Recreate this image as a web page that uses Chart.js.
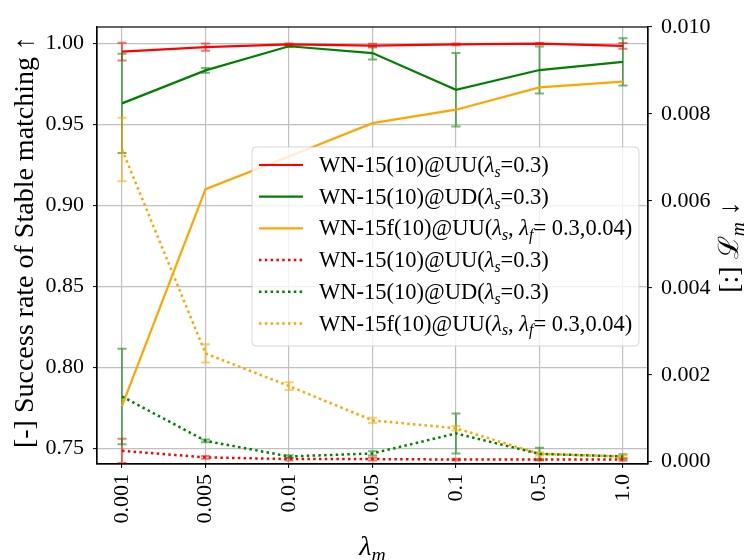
<!DOCTYPE html>
<html>
<head>
<meta charset="utf-8">
<script src="https://cdn.jsdelivr.net/npm/chart.js@4.4.1/dist/chart.umd.min.js"></script>
<style>
  html, body { margin: 0; padding: 0; background: #ffffff; }
  #wrap { width: 747px; height: 560px; }
</style>
</head>
<body>
<div id="wrap"><canvas id="chart" width="747" height="560"></canvas></div>
<script>
// lambda_m values on the x axis
const categories = ['0.001', '0.005', '0.01', '0.05', '0.1', '0.5', '1.0'];

// success rate of stable matching (left axis)
const uuRate = [0.9951, 0.9979, 0.9996, 0.9988, 0.9996, 1.0000, 0.9986];
const uuRateErr = [0.0055, 0.0022, 0.0005, 0.0012, 0.0005, 0.0004, 0.0018];
const udRate = [0.9631, 0.9835, 0.9984, 0.9942, 0.9715, 0.9837, 0.9887];
const udRateErr = [0.0306, 0.0014, 0.0005, 0.0040, 0.0227, 0.0145, 0.0146];
const fuuRate = [0.7762, 0.9101, 0.9303, 0.9509, 0.9592, 0.9730, 0.9765];

// L_m loss (right axis)
const uuLoss = [0.00025, 0.00010, 0.00006, 0.00006, 0.00005, 0.00005, 0.00005];
const uuLossErr = [0.00028, 0.00003, 0.00003, 0.00003, 0.00002, 0.00002, 0.00003];
const udLoss = [0.00150, 0.00048, 0.00012, 0.00019, 0.00065, 0.00018, 0.00012];
const udLossErr = [0.00110, 0.00003, 0.00003, 0.00005, 0.00046, 0.00014, 0.00005];
const fuuLoss = [0.00718, 0.00249, 0.00174, 0.00095, 0.00077, 0.00018, 0.00012];
const fuuLossErr = [0.00073, 0.00021, 0.00009, 0.00006, 0.00005, 0.00004, 0.00003];

// tick labels
const leftTicks = [0.75, 0.80, 0.85, 0.90, 0.95, 1.00];
const rightTicks = [0.000, 0.002, 0.004, 0.006, 0.008, 0.010];

const FONT = "'Liberation Serif', 'DejaVu Serif', serif";
const RED = '#ff0000', GREEN = '#008000', ORANGE = '#ffa500';

function points(values) {
    return values.map((v, i) => ({ x: i, y: v }));
}

function makeSet(label, values, errors, color, axis, dotted) {
    return {
        label: label,
        data: points(values),
        errors: errors,
        yAxisID: axis,
        borderColor: color,
        backgroundColor: color,
        borderWidth: dotted ? 2.5 : 2.2,
        borderDash: dotted ? [2.5, 3.3] : [],
        pointRadius: 0,
        tension: 0,
        fill: false,
        order: dotted ? 1 : 2
    };
}

// split "λ_s" style markup into pieces with subscripts
function richParts(str) {
    const out = [];
    const re = /(.)_([a-z])/g;
    let last = 0, m;
    while ((m = re.exec(str))) {
        if (m.index > last) out.push({ t: str.slice(last, m.index) });
        out.push({ t: m[1], it: m[1] !== 'ℒ' });
        out.push({ t: m[2], it: true, sub: true });
        last = re.lastIndex;
    }
    if (last < str.length) out.push({ t: str.slice(last) });
    return out;
}

function partFont(p, size) {
    return (p.it ? 'italic ' : '') + (p.sub ? size * 0.7 : size) + 'px ' + FONT;
}

function richWidth(ctx, parts, size) {
    let w = 0;
    parts.forEach(p => { ctx.font = partFont(p, size); w += ctx.measureText(p.t).width; });
    return w;
}

function drawRich(ctx, parts, x, y, size) {
    ctx.textBaseline = 'alphabetic';
    ctx.textAlign = 'left';
    parts.forEach(p => {
        ctx.font = partFont(p, size);
        ctx.fillText(p.t, x, y + (p.sub ? size * 0.22 : 0));
        x += ctx.measureText(p.t).width;
    });
}

// error bars drawn from each dataset's own scales
const errorBars = {
    id: 'errorBars',
    beforeDatasetsDraw(chart) {
        const ctx = chart.ctx;
        const xs = chart.scales.x;
        ctx.save();
        ctx.beginPath();
        ctx.rect(chart.chartArea.left, chart.chartArea.top,
                 chart.chartArea.right - chart.chartArea.left,
                 chart.chartArea.bottom - chart.chartArea.top);
        ctx.clip();
        chart.data.datasets.forEach(ds => {
            if (!ds.errors) return;
            const ys = chart.scales[ds.yAxisID];
            ctx.strokeStyle = ds.borderColor;
            ctx.globalAlpha = 0.55;
            ctx.lineWidth = 2;
            ds.data.forEach((pt, i) => {
                const px = xs.getPixelForValue(pt.x);
                const top = ys.getPixelForValue(pt.y + ds.errors[i]);
                const bot = ys.getPixelForValue(pt.y - ds.errors[i]);
                ctx.beginPath();
                ctx.moveTo(px, top); ctx.lineTo(px, bot);
                ctx.moveTo(px - 4.5, top); ctx.lineTo(px + 4.5, top);
                ctx.moveTo(px - 4.5, bot); ctx.lineTo(px + 4.5, bot);
                ctx.stroke();
            });
        });
        ctx.restore();
    }
};

// top spine, axis titles and legend
const frameAndText = {
    id: 'frameAndText',
    afterDraw(chart) {
        const ctx = chart.ctx;
        const a = chart.chartArea;
        ctx.save();
        ctx.strokeStyle = '#000000';
        ctx.lineWidth = 1.2;
        ctx.strokeRect(a.left, a.top, a.right - a.left, a.bottom - a.top);
        ctx.fillStyle = '#000000';

        // x title
        const xParts = richParts('λ_m');
        const xw = richWidth(ctx, xParts, 28);
        drawRich(ctx, xParts, (a.left + a.right) / 2 - xw / 2, 555, 28);

        // left title
        const lParts = richParts('[-] Success rate of Stable matching ↑');
        const lw = richWidth(ctx, lParts, 28);
        ctx.save();
        ctx.translate(33, 242);
        ctx.rotate(-Math.PI / 2);
        drawRich(ctx, lParts, -lw / 2, 0, 28);
        ctx.restore();

        // right title
        const rParts = richParts('[:] ℒ_m ↓');
        const rw = richWidth(ctx, rParts, 28);
        ctx.save();
        ctx.translate(738, 247);
        ctx.rotate(-Math.PI / 2);
        drawRich(ctx, rParts, -rw / 2, 0, 28);
        ctx.restore();

        // legend
        const box = { x: 252, y: 147, w: 387, h: 199 };
        ctx.beginPath();
        ctx.roundRect(box.x, box.y, box.w, box.h, 4);
        ctx.fillStyle = 'rgba(255,255,255,0.8)';
        ctx.fill();
        ctx.strokeStyle = 'rgba(204,204,204,0.8)';
        ctx.lineWidth = 1;
        ctx.stroke();
        chart.data.datasets.forEach((ds, i) => {
            const cy = 165 + i * 31.7;
            ctx.strokeStyle = ds.borderColor;
            ctx.lineWidth = ds.borderWidth;
            ctx.setLineDash(ds.borderDash);
            ctx.beginPath();
            ctx.moveTo(259, cy); ctx.lineTo(303, cy);
            ctx.stroke();
            ctx.setLineDash([]);
            ctx.fillStyle = '#000000';
            drawRich(ctx, richParts(ds.label), 319, cy + 7, 22.5);
        });
        ctx.restore();
    }
};

const tickFont = { family: FONT, size: 22 };
const gridStyle = { color: '#c0c0c0', lineWidth: 1.2, tickLength: 4, tickColor: '#000000', tickWidth: 1 };

new Chart(document.getElementById('chart'), {
    type: 'line',
    data: {
        datasets: [
            makeSet('WN-15(10)@UU(λ_s=0.3)', uuRate, uuRateErr, RED, 'y', false),
            makeSet('WN-15(10)@UD(λ_s=0.3)', udRate, udRateErr, GREEN, 'y', false),
            makeSet('WN-15f(10)@UU(λ_s, λ_f= 0.3,0.04)', fuuRate, null, ORANGE, 'y', false),
            makeSet('WN-15(10)@UU(λ_s=0.3)', uuLoss, uuLossErr, RED, 'y1', true),
            makeSet('WN-15(10)@UD(λ_s=0.3)', udLoss, udLossErr, GREEN, 'y1', true),
            makeSet('WN-15f(10)@UU(λ_s, λ_f= 0.3,0.04)', fuuLoss, fuuLossErr, ORANGE, 'y1', true)
        ]
    },
    options: {
        responsive: false,
        animation: false,
        layout: { padding: { top: 27, left: 0, right: 0, bottom: 0 } },
        plugins: {
            legend: { display: false },
            tooltip: { enabled: false }
        },
        scales: {
            x: {
                type: 'linear',
                min: -0.3,
                max: 6.3,
                afterBuildTicks: s => { s.ticks = categories.map((c, i) => ({ value: i })); },
                afterFit: s => { s.height = 96; },
                ticks: {
                    callback: v => categories[v],
                    minRotation: 90,
                    maxRotation: 90,
                    autoSkip: false,
                    padding: 6,
                    color: '#000000',
                    font: tickFont
                },
                grid: gridStyle,
                border: { color: '#000000', width: 1.2 }
            },
            y: {
                position: 'left',
                min: 0.7403,
                max: 1.0103,
                afterBuildTicks: s => { s.ticks = leftTicks.map(v => ({ value: v })); },
                afterFit: s => { s.width = 97; },
                ticks: {
                    callback: v => v.toFixed(2),
                    padding: 9,
                    color: '#000000',
                    font: tickFont
                },
                grid: gridStyle,
                border: { color: '#000000', width: 1.2 }
            },
            y1: {
                position: 'right',
                min: -0.000053,
                max: 0.0100,
                afterBuildTicks: s => { s.ticks = rightTicks.map(v => ({ value: v })); },
                afterFit: s => { s.width = 99; },
                ticks: {
                    callback: v => v.toFixed(3),
                    padding: 9,
                    color: '#000000',
                    font: tickFont
                },
                grid: Object.assign({}, gridStyle, { drawOnChartArea: false }),
                border: { color: '#000000', width: 1.2 }
            }
        }
    },
    plugins: [errorBars, frameAndText]
});
</script>
</body>
</html>
